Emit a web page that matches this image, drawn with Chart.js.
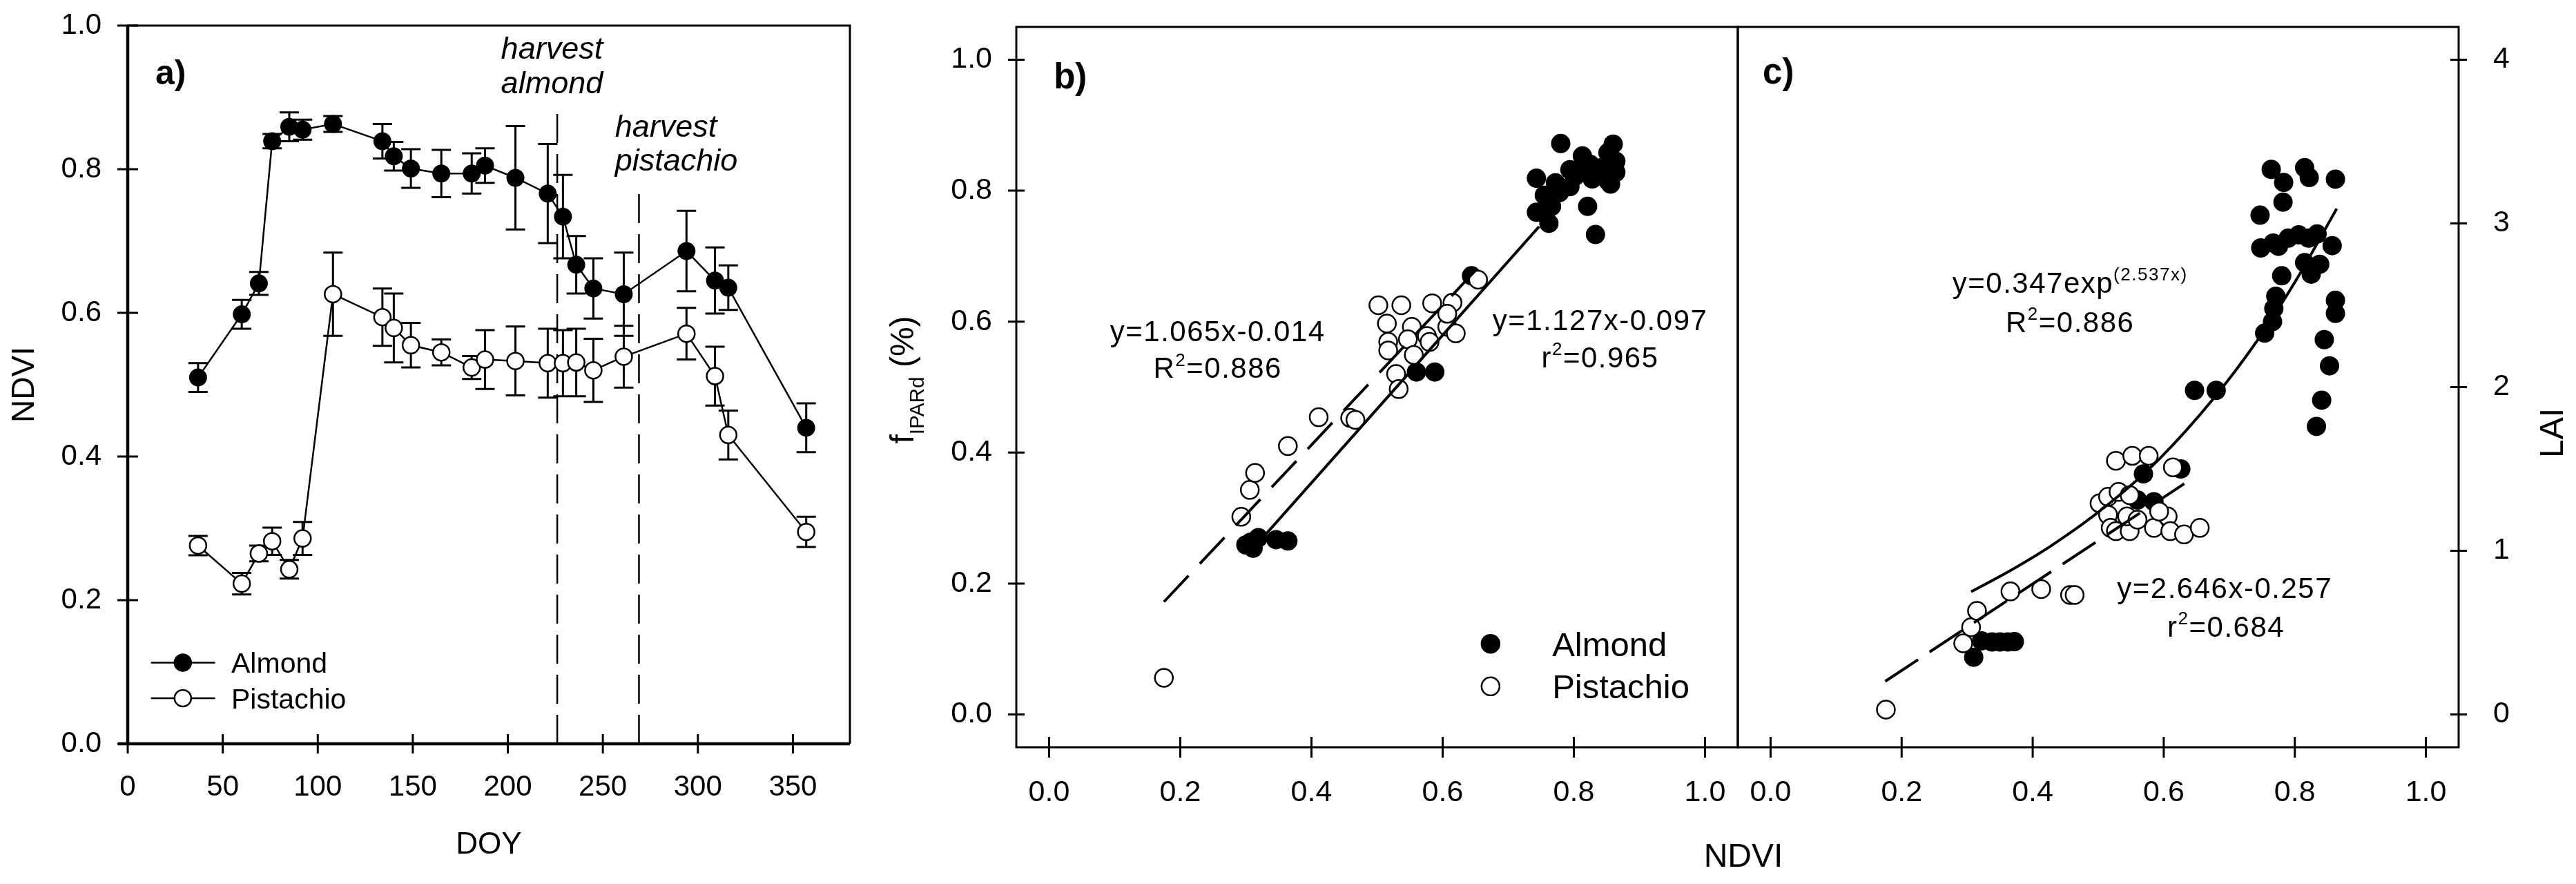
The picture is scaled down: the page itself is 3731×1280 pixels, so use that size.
<!DOCTYPE html>
<html>
<head>
<meta charset="utf-8">
<title>NDVI, fIPARd and LAI</title>
<script src="https://cdn.jsdelivr.net/npm/chart.js@4.4.0/dist/chart.umd.min.js"></script>
<style>
  html, body { margin: 0; padding: 0; background: #fff; }
  #wrap { position: relative; width: 3731px; height: 1280px; overflow: hidden; background: #fff; }
  canvas { position: absolute; top: 0; }
</style>
</head>
<body>
<div id="wrap">
  <canvas id="chartA" width="1300" height="1280" style="left:0;width:1300px;height:1280px"></canvas>
  <canvas id="chartB" width="1360" height="1280" style="left:1240px;width:1360px;height:1280px"></canvas>
  <canvas id="chartC" width="1251" height="1280" style="left:2480px;width:1251px;height:1280px"></canvas>
</div>
<script>
// ---- panel a: NDVI time course ----
const doy = [37, 60, 69, 76, 85, 92, 108, 134, 140, 149, 165, 181, 188, 204, 221, 229, 236, 245, 261, 294, 309, 316, 357];
const almondNdvi = [0.51, 0.598, 0.641, 0.839, 0.859, 0.855, 0.863, 0.839, 0.818, 0.801, 0.794, 0.794, 0.805, 0.788, 0.766, 0.734, 0.667, 0.634, 0.626, 0.686, 0.645, 0.635, 0.44];
const almondSe = [0.02, 0.02, 0.016, 0.01, 0.02, 0.014, 0.011, 0.024, 0.02, 0.027, 0.033, 0.028, 0.024, 0.072, 0.069, 0.058, 0.04, 0.042, 0.058, 0.056, 0.046, 0.031, 0.034];
const pistachioNdvi = [0.276, 0.223, 0.265, 0.282, 0.243, 0.286, 0.626, 0.594, 0.579, 0.555, 0.545, 0.524, 0.535, 0.533, 0.53, 0.53, 0.531, 0.52, 0.539, 0.571, 0.512, 0.43, 0.295];
const pistachioSe = [0.0135, 0.015, 0.011, 0.019, 0.013, 0.023, 0.058, 0.04, 0.048, 0.031, 0.018, 0.016, 0.041, 0.048, 0.048, 0.046, 0.047, 0.044, 0.043, 0.036, 0.041, 0.034, 0.021];
const harvestDoy = [226, 269];
const harvestTop = [0.887, 0.775];
const doyTicks = [0, 50, 100, 150, 200, 250, 300, 350];
const ndviTicks = [0, 0.2, 0.4, 0.6, 0.8, 1.0];

// ---- panel b: fIPARd vs NDVI ----
const almondNdviB = [0.300, 0.311, 0.319, 0.307, 0.346, 0.364, 0.560, 0.588, 0.644, 0.780, 0.743, 0.743, 0.762, 0.766, 0.778, 0.794, 0.809, 0.813, 0.825, 0.837, 0.821, 0.833, 0.852, 0.860, 0.864, 0.864, 0.852, 0.794, 0.755, 0.844, 0.856, 0.772, 0.802, 0.828, 0.848, 0.756];
const almondFipar = [0.259, 0.254, 0.270, 0.263, 0.267, 0.265, 0.523, 0.523, 0.670, 0.872, 0.819, 0.767, 0.750, 0.776, 0.797, 0.806, 0.832, 0.853, 0.840, 0.823, 0.776, 0.733, 0.858, 0.871, 0.845, 0.828, 0.815, 0.832, 0.793, 0.836, 0.810, 0.812, 0.822, 0.818, 0.826, 0.765];
const pistachioNdviB = [0.175, 0.293, 0.306, 0.314, 0.364, 0.411, 0.459, 0.467, 0.502, 0.537, 0.584, 0.615, 0.515, 0.553, 0.517, 0.517, 0.547, 0.576, 0.607, 0.607, 0.556, 0.529, 0.533, 0.654, 0.580, 0.620];
const pistachioFipar = [0.056, 0.302, 0.343, 0.369, 0.410, 0.454, 0.453, 0.450, 0.625, 0.625, 0.628, 0.629, 0.597, 0.592, 0.569, 0.556, 0.573, 0.578, 0.592, 0.612, 0.549, 0.520, 0.497, 0.664, 0.569, 0.582];
const almondFitBx = [0.331, 0.747];
const almondFitBy = [0.276, 0.745];
const pistachioFitBx = [0.175, 0.650];
const pistachioFitBy = [0.172, 0.678];

// ---- panel c: LAI vs NDVI ----
const almondNdviC = [0.764, 0.783, 0.815, 0.822, 0.862, 0.782, 0.747, 0.748, 0.767, 0.775, 0.790, 0.806, 0.821, 0.834, 0.857, 0.815, 0.825, 0.838, 0.780, 0.771, 0.768, 0.766, 0.754, 0.862, 0.862, 0.845, 0.853, 0.841, 0.833, 0.647, 0.680, 0.569, 0.626, 0.585, 0.560, 0.310, 0.322, 0.338, 0.350, 0.362, 0.372];
const almondLai = [3.33, 3.25, 3.34, 3.28, 3.27, 3.13, 3.05, 2.85, 2.88, 2.86, 2.91, 2.93, 2.91, 2.935, 2.864, 2.76, 2.69, 2.75, 2.68, 2.555, 2.48, 2.40, 2.33, 2.53, 2.45, 2.29, 2.13, 1.92, 1.76, 1.98, 1.98, 1.47, 1.50, 1.30, 1.31, 0.35, 0.45, 0.443, 0.443, 0.443, 0.445];
const pistachioNdviC = [0.176, 0.294, 0.306, 0.315, 0.366, 0.413, 0.457, 0.464, 0.527, 0.552, 0.577, 0.614, 0.502, 0.515, 0.531, 0.548, 0.515, 0.519, 0.527, 0.548, 0.544, 0.585, 0.606, 0.610, 0.631, 0.655, 0.560, 0.593];
const pistachioLai = [0.03, 0.435, 0.533, 0.633, 0.752, 0.766, 0.73, 0.73, 1.55, 1.58, 1.58, 1.51, 1.29, 1.33, 1.36, 1.34, 1.22, 1.14, 1.12, 1.12, 1.21, 1.14, 1.21, 1.12, 1.10, 1.14, 1.19, 1.24];
const almondFitCx = [0.306, 0.362, 0.428, 0.511, 0.593, 0.676, 0.742, 0.800, 0.864];
const almondFitCy = [0.75, 0.87, 1.03, 1.27, 1.56, 1.93, 2.28, 2.64, 3.09];
const pistachioFitCx = [0.175, 0.639];
const pistachioFitCy = [0.203, 1.43];
const laiTicks = [0, 1, 2, 3, 4];

const FONT = 'Arial, "Liberation Sans", sans-serif';
Chart.defaults.font.family = FONT;
Chart.defaults.color = '#000';

const pts = (xs, ys) => xs.map((x, i) => ({ x: x, y: ys[i] }));

// draws text pieces with super/subscripts, centred on y
function rich(ctx, parts, x, y, size, align, style, spacing) {
  const small = size * 0.62;
  const fontFor = k => (style ? style + ' ' : '') + (k === 'n' ? size : small) + 'px ' + FONT;
  ctx.save();
  ctx.letterSpacing = (spacing || 0) + 'px';
  let total = 0;
  parts.forEach(([t, k]) => { ctx.font = fontFor(k); total += ctx.measureText(t).width; });
  let cx = align === 'center' ? x - total / 2 : (align === 'right' ? x - total : x);
  const base = y + size * 0.36;
  ctx.textAlign = 'left';
  ctx.textBaseline = 'alphabetic';
  ctx.fillStyle = '#000';
  parts.forEach(([t, k]) => {
    ctx.font = fontFor(k);
    const dy = k === 'sup' ? -size * 0.42 : (k === 'sub' ? size * 0.3 : 0);
    ctx.fillText(t, cx, base + dy);
    cx += ctx.measureText(t).width;
  });
  ctx.restore();
}

function crossTicks(ctx, scale, len) {
  ctx.save();
  ctx.lineWidth = 3;
  ctx.strokeStyle = '#000';
  ctx.beginPath();
  scale.ticks.forEach(t => {
    const p = scale.getPixelForValue(t.value);
    if (scale.isHorizontal()) {
      ctx.moveTo(p, scale.top - len); ctx.lineTo(p, scale.top + len);
    } else {
      const x = scale.position === 'right' ? scale.left : scale.right;
      ctx.moveTo(x - len, p); ctx.lineTo(x + len, p);
    }
  });
  ctx.stroke();
  ctx.restore();
}

function frame(ctx, a, w) {
  ctx.save();
  ctx.lineWidth = w;
  ctx.strokeStyle = '#000';
  ctx.strokeRect(a.left, a.top, a.right - a.left, a.bottom - a.top);
  ctx.restore();
}

function marker(ctx, x, y, r, filled) {
  ctx.save();
  ctx.beginPath();
  ctx.arc(x, y, r, 0, Math.PI * 2);
  ctx.fillStyle = filled ? '#000' : '#fff';
  ctx.fill();
  ctx.lineWidth = 2.5;
  ctx.strokeStyle = '#000';
  ctx.stroke();
  ctx.restore();
}

function errorBars(chart, xs, ys, es, cap) {
  const { ctx, scales: { x, y } } = chart;
  ctx.save();
  ctx.lineWidth = 3;
  ctx.strokeStyle = '#000';
  ctx.beginPath();
  xs.forEach((d, i) => {
    const px = x.getPixelForValue(d);
    const top = y.getPixelForValue(ys[i] + es[i]);
    const bot = y.getPixelForValue(ys[i] - es[i]);
    ctx.moveTo(px, top); ctx.lineTo(px, bot);
    ctx.moveTo(px - cap, top); ctx.lineTo(px + cap, top);
    ctx.moveTo(px - cap, bot); ctx.lineTo(px + cap, bot);
  });
  ctx.stroke();
  ctx.restore();
}

const tickFont = size => ({ size: size, family: FONT });

// fixed-size axis; label overflow padding is dropped so the plot box sits exactly where the layout puts it
function linearAxis(min, max, tickList, fmt, size, pad, fit) {
  return {
    type: 'linear', min: min, max: max,
    afterBuildTicks: s => { s.ticks = tickList.map(v => ({ value: v })); },
    afterFit: s => {
      fit(s);
      s.paddingTop = 0; s.paddingBottom = 0; s.paddingLeft = 0; s.paddingRight = 0;
    },
    grid: { display: false, drawTicks: false },
    border: { display: false },
    ticks: { font: tickFont(size), color: '#000', padding: pad, maxRotation: 0, autoSkip: false, callback: fmt }
  };
}

const baseOpts = {
  responsive: false,
  animation: false,
  devicePixelRatio: 1,
  plugins: { legend: { display: false }, tooltip: { enabled: false } }
};

const filledPts = { pointRadius: 13, pointBackgroundColor: '#000', pointBorderColor: '#000', pointBorderWidth: 2, showLine: false };
const openPts = { pointRadius: 13, pointBackgroundColor: '#fff', pointBorderColor: '#000', pointBorderWidth: 2.5, showLine: false };

// ---------------- panel a ----------------
const axA = linearAxis(0, 380, doyTicks, v => String(v), 42, 38, s => { s.height = 203; });
axA.title = { display: true, text: 'DOY', color: '#000', font: tickFont(44), padding: { top: 0, bottom: 30 } };
const ayA = linearAxis(0, 1, ndviTicks, v => v.toFixed(1), 42, 38, s => { s.width = 185; });
ayA.title = { display: true, text: 'NDVI', color: '#000', font: tickFont(46), padding: { top: 9, bottom: 0 } };

const decorA = {
  id: 'decorA',
  beforeDatasetsDraw(chart) {
    errorBars(chart, doy, pistachioNdvi, pistachioSe, 14);
    errorBars(chart, doy, almondNdvi, almondSe, 14);
  },
  afterDraw(chart) {
    const { ctx, chartArea: a, scales: { x, y } } = chart;
    ctx.save();
    ctx.lineWidth = 3;
    ctx.strokeStyle = '#000';
    ctx.beginPath();
    ctx.moveTo(a.left, a.top); ctx.lineTo(a.right, a.top); ctx.lineTo(a.right, a.bottom);
    ctx.stroke();
    ctx.lineWidth = 4.5;
    ctx.beginPath();
    ctx.moveTo(a.left - 14, a.bottom); ctx.lineTo(a.right, a.bottom);
    ctx.moveTo(a.left, a.bottom); ctx.lineTo(a.left, a.top);
    ctx.stroke();
    ctx.restore();
    crossTicks(ctx, x, 14);
    crossTicks(ctx, y, 15);

    rich(ctx, [['a)', 'n']], x.getPixelForValue(14.5), y.getPixelForValue(0.936), 50, 'left', 'bold');
    rich(ctx, [['harvest', 'n']], x.getPixelForValue(196.4), y.getPixelForValue(0.969), 45, 'left', 'italic');
    rich(ctx, [['almond', 'n']], x.getPixelForValue(196.4), y.getPixelForValue(0.921), 45, 'left', 'italic');
    rich(ctx, [['harvest', 'n']], x.getPixelForValue(256.4), y.getPixelForValue(0.861), 45, 'left', 'italic');
    rich(ctx, [['pistachio', 'n']], x.getPixelForValue(256.4), y.getPixelForValue(0.814), 45, 'left', 'italic');

    // legend
    [['Almond', 0.113, true], ['Pistachio', 0.0635, false]].forEach(([lab, ly, filled]) => {
      const py = y.getPixelForValue(ly);
      ctx.save();
      ctx.lineWidth = 2.5;
      ctx.strokeStyle = '#000';
      ctx.beginPath();
      ctx.moveTo(x.getPixelForValue(12.2), py); ctx.lineTo(x.getPixelForValue(46), py);
      ctx.stroke();
      ctx.restore();
      marker(ctx, x.getPixelForValue(29), py, 12, filled);
      rich(ctx, [[lab, 'n']], x.getPixelForValue(54.5), py, 41, 'left');
    });
  }
};

new Chart(document.getElementById('chartA'), {
  type: 'scatter',
  data: {
    datasets: [
      Object.assign({ label: 'Almond', data: pts(doy, almondNdvi), borderColor: '#000', borderWidth: 2.5 }, filledPts, { showLine: true, pointRadius: 12 }),
      Object.assign({ label: 'Pistachio', data: pts(doy, pistachioNdvi), borderColor: '#000', borderWidth: 2.5 }, openPts, { showLine: true, pointRadius: 12 }),
      { label: 'harvest almond', data: pts([harvestDoy[0], harvestDoy[0]], [0, harvestTop[0]]), showLine: true, pointRadius: 0, borderColor: '#000', borderWidth: 2.5, borderDash: [42, 16] },
      { label: 'harvest pistachio', data: pts([harvestDoy[1], harvestDoy[1]], [0, harvestTop[1]]), showLine: true, pointRadius: 0, borderColor: '#000', borderWidth: 2.5, borderDash: [42, 16] }
    ]
  },
  options: Object.assign({}, baseOpts, {
    layout: { padding: { left: 0, right: 69, top: 37, bottom: 0 } },
    scales: { x: axA, y: ayA }
  }),
  plugins: [decorA]
});

// ---------------- panel b ----------------
const decorB = {
  id: 'decorB',
  afterDraw(chart) {
    const { ctx, chartArea: a, scales: { x, y } } = chart;
    frame(ctx, a, 3);
    crossTicks(ctx, x, 15);
    crossTicks(ctx, y, 12);
    rich(ctx, [['b)', 'n']], x.getPixelForValue(0.007), y.getPixelForValue(0.976), 51, 'left', 'bold');
    rich(ctx, [['y=1.065x-0.014', 'n']], x.getPixelForValue(0.257), y.getPixelForValue(0.586), 42, 'center', '', 1.5);
    rich(ctx, [['R', 'n'], ['2', 'sup'], ['=0.886', 'n']], x.getPixelForValue(0.257), y.getPixelForValue(0.53), 42, 'center', '', 1.5);
    rich(ctx, [['y=1.127x-0.097', 'n']], x.getPixelForValue(0.84), y.getPixelForValue(0.603), 42, 'center', '', 1.5);
    rich(ctx, [['r', 'n'], ['2', 'sup'], ['=0.965', 'n']], x.getPixelForValue(0.84), y.getPixelForValue(0.546), 42, 'center', '', 1.5);
    [['Almond', 0.108, true], ['Pistachio', 0.043, false]].forEach(([lab, ly, filled]) => {
      const py = y.getPixelForValue(ly);
      marker(ctx, x.getPixelForValue(0.673), py, 13, filled);
      rich(ctx, [[lab, 'n']], x.getPixelForValue(0.767), py, 49, 'left');
    });
    // axis titles
    ctx.save();
    ctx.translate(66, 550);
    ctx.rotate(-Math.PI / 2);
    rich(ctx, [['f', 'n'], ['IPARd', 'sub'], [' (%)', 'n']], 0, 0, 48, 'center');
    ctx.restore();
    rich(ctx, [['NDVI', 'n']], a.right + 8, 1238, 48, 'center');
  }
};

new Chart(document.getElementById('chartB'), {
  type: 'scatter',
  data: {
    datasets: [
      { label: 'Almond fit', data: pts(almondFitBx, almondFitBy), showLine: true, pointRadius: 0, borderColor: '#000', borderWidth: 4 },
      { label: 'Pistachio fit', data: pts(pistachioFitBx, pistachioFitBy), showLine: true, pointRadius: 0, borderColor: '#000', borderWidth: 4, borderDash: [52, 24] },
      Object.assign({ label: 'Pistachio', data: pts(pistachioNdviB, pistachioFipar) }, openPts),
      Object.assign({ label: 'Almond', data: pts(almondNdviB, almondFipar) }, filledPts)
    ]
  },
  options: Object.assign({}, baseOpts, {
    layout: { padding: { left: 0, right: 83, top: 39, bottom: 0 } },
    scales: {
      x: linearAxis(-0.05, 1.05, ndviTicks, v => v.toFixed(1), 43, 40, s => { s.height = 198; }),
      y: linearAxis(-0.05, 1.05, ndviTicks, v => v.toFixed(1), 43, 35, s => { s.width = 232; })
    }
  }),
  plugins: [decorB]
});

// ---------------- panel c ----------------
const ayC = linearAxis(-0.2, 4.2, laiTicks, v => String(v), 43, 50, s => { s.width = 170; });
ayC.position = 'right';

const decorC = {
  id: 'decorC',
  afterDraw(chart) {
    const { ctx, chartArea: a, scales: { x, y } } = chart;
    frame(ctx, a, 3);
    crossTicks(ctx, x, 15);
    crossTicks(ctx, y, 12);
    rich(ctx, [['c)', 'n']], x.getPixelForValue(-0.012), y.getPixelForValue(3.93), 51, 'left', 'bold');
    rich(ctx, [['y=0.347exp', 'n'], ['(2.537x)', 'sup']], x.getPixelForValue(0.457), y.getPixelForValue(2.64), 42, 'center', '', 1.5);
    rich(ctx, [['R', 'n'], ['2', 'sup'], ['=0.886', 'n']], x.getPixelForValue(0.457), y.getPixelForValue(2.40), 42, 'center', '', 1.5);
    rich(ctx, [['y=2.646x-0.257', 'n']], x.getPixelForValue(0.693), y.getPixelForValue(0.776), 42, 'center', '', 1.5);
    rich(ctx, [['r', 'n'], ['2', 'sup'], ['=0.684', 'n']], x.getPixelForValue(0.695), y.getPixelForValue(0.54), 42, 'center', '', 1.5);
    ctx.save();
    ctx.translate(1215, 627);
    ctx.rotate(-Math.PI / 2);
    rich(ctx, [['LAI', 'n']], 0, 0, 48, 'center');
    ctx.restore();
  }
};

new Chart(document.getElementById('chartC'), {
  type: 'scatter',
  data: {
    datasets: [
      { label: 'Almond fit', data: pts(almondFitCx, almondFitCy), showLine: true, pointRadius: 0, borderColor: '#000', borderWidth: 4, cubicInterpolationMode: 'monotone' },
      { label: 'Pistachio fit', data: pts(pistachioFitCx, pistachioFitCy), showLine: true, pointRadius: 0, borderColor: '#000', borderWidth: 4, borderDash: [57, 20] },
      Object.assign({ label: 'Pistachio', data: pts(pistachioNdviC, pistachioLai) }, openPts),
      Object.assign({ label: 'Almond', data: pts(almondNdviC, almondLai) }, filledPts)
    ]
  },
  options: Object.assign({}, baseOpts, {
    layout: { padding: { left: 37, right: 0, top: 39, bottom: 0 } },
    scales: {
      x: linearAxis(-0.05, 1.05, ndviTicks, v => v.toFixed(1), 43, 40, s => { s.height = 198; }),
      y: ayC
    }
  }),
  plugins: [decorC]
});
</script>
</body>
</html>
